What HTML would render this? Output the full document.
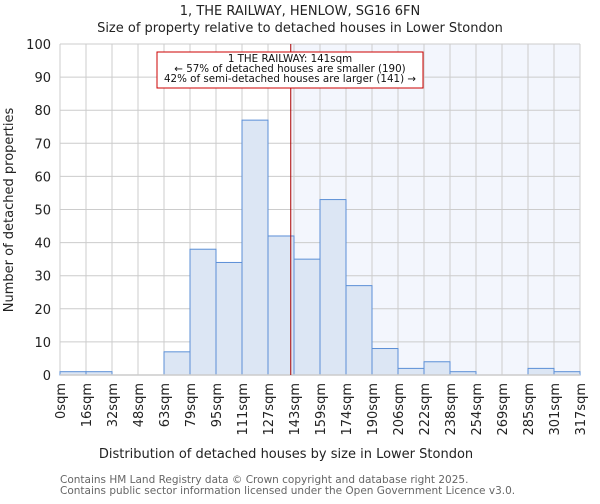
<!DOCTYPE html>
<html><head><meta charset="utf-8"><style>
body{margin:0;background:#fff;font-family:"DejaVu Sans","Liberation Sans",sans-serif;}
svg text{font-family:"DejaVu Sans","Liberation Sans",sans-serif;}
</style></head><body>
<svg id="c" width="600" height="500" xmlns="http://www.w3.org/2000/svg"></svg>
<script>
const edges=["0sqm","16sqm","32sqm","48sqm","63sqm","79sqm","95sqm","111sqm","127sqm","143sqm","159sqm","174sqm","190sqm","206sqm","222sqm","238sqm","254sqm","269sqm","285sqm","301sqm","317sqm"];
const counts=[1,1,0,0,7,38,34,77,42,35,53,27,8,2,4,1,0,0,2,1];
const yTicks=[0,10,20,30,40,50,60,70,80,90,100];
const propertyBin=8.875;
const svg=document.getElementById('c');
const NS='http://www.w3.org/2000/svg';
const L=60,R=580,T=44,B=375,n=counts.length,bw=(R-L)/n;
const x=i=>L+i*bw, y=v=>B-(v/100)*(B-T);
function el(t,a,txt){const e=document.createElementNS(NS,t);for(const k in a)e.setAttribute(k,a[k]);if(txt!==undefined)e.textContent=txt;svg.appendChild(e);return e;}
let e;
const px=x(propertyBin);
e=el('rect',{x:px,y:T,width:R-px,height:B-T,fill:'#f3f6fd'});


for(let i=0;i<=n;i++){e=el('line',{x1:x(i),x2:x(i),y1:T,y2:B,stroke:'#cccccc','stroke-width':1});

}
yTicks.forEach(v=>{e=el('line',{x1:L,x2:R,y1:y(v),y2:y(v),stroke:'#cccccc','stroke-width':1});


e=el('text',{x:L-9,y:y(v)+5,'text-anchor':'end','font-size':13,fill:'#222'},String(v));

});
counts.forEach((c,i)=>{e=el('rect',{x:x(i),y:y(c),width:bw,height:B-y(c),fill:'#dce6f4',stroke:'#5b8fd6','stroke-width':1});

});
edges.forEach((t,i)=>{e=el('text',{transform:`translate(${x(i)+5},383) rotate(-90)`,'text-anchor':'end','font-size':13,fill:'#222'},t);

});
e=el('line',{x1:L,x2:R,y1:B,y2:B,stroke:'#cccccc','stroke-width':1.5});


e=el('line',{x1:px,x2:px,y1:T,y2:B,stroke:'#aa0000','stroke-width':1});


e=el('rect',{x:157,y:52,width:266,height:36,fill:'#fff',stroke:'#cc0000','stroke-width':1});


["1 THE RAILWAY: 141sqm","← 57% of detached houses are smaller (190)","42% of semi-detached houses are larger (141) →"].forEach((t,i)=>{
e=el('text',{x:290,y:62+i*10,'text-anchor':'middle','font-size':10.3,fill:'#111'},t);

});
e=el('text',{x:300,y:15,'text-anchor':'middle','font-size':13,fill:'#222'},'1, THE RAILWAY, HENLOW, SG16 6FN');


e=el('text',{x:300,y:32,'text-anchor':'middle','font-size':13,fill:'#222'},'Size of property relative to detached houses in Lower Stondon');


e=el('text',{x:286,y:458,'text-anchor':'middle','font-size':13,fill:'#222'},'Distribution of detached houses by size in Lower Stondon');


e=el('text',{transform:'translate(13,210) rotate(-90)','text-anchor':'middle','font-size':13,fill:'#222'},'Number of detached properties');


e=el('text',{x:60,y:483,'font-size':10.5,fill:'#666'},'Contains HM Land Registry data © Crown copyright and database right 2025.');


e=el('text',{x:60,y:494,'font-size':10.5,fill:'#666'},'Contains public sector information licensed under the Open Government Licence v3.0.');


</script>
</body></html>
